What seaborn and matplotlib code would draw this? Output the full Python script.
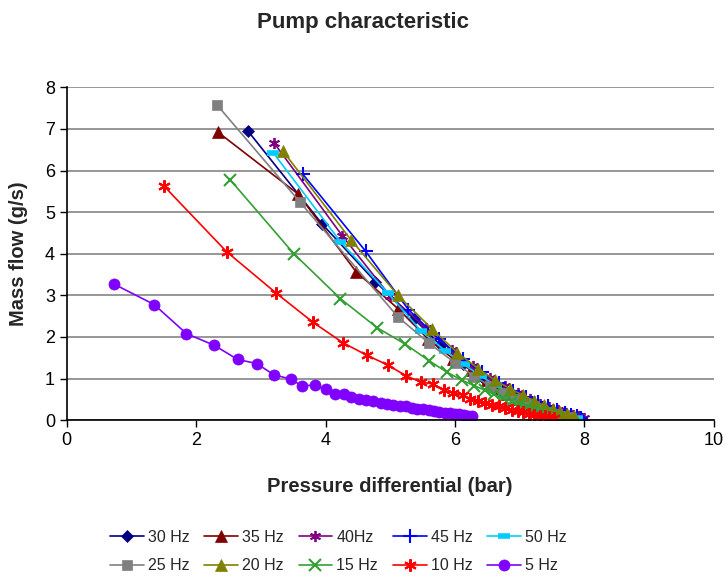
import numpy as np
import pandas as pd
import matplotlib
matplotlib.use("Agg")
import matplotlib.pyplot as plt
import seaborn as sns

# series (pressure differential in bar, mass flow in g/s)
labels = ["30 Hz", "35 Hz", "40Hz", "45 Hz", "50 Hz",
          "25 Hz", "20 Hz", "15 Hz", "10 Hz", "5 Hz"]

x30 = [2.80, 3.95, 4.77, 5.37, 5.78, 6.13, 6.42, 6.66, 6.87, 7.05, 7.21, 7.35, 7.48, 7.60, 7.70, 7.80, 7.88, 7.95]
y30 = [6.95, 4.71, 3.33, 2.43, 1.80, 1.36, 1.05, 0.82, 0.64, 0.50, 0.39, 0.30, 0.23, 0.17, 0.13, 0.10, 0.07, 0.05]

x35 = [2.33, 3.58, 4.47, 5.12, 5.58, 5.97, 6.25, 6.49, 6.66, 6.81, 6.95, 7.08, 7.20, 7.32, 7.43, 7.53, 7.62, 7.70]
y35 = [6.93, 5.43, 3.57, 2.68, 1.96, 1.48, 1.20, 0.96, 0.77, 0.63, 0.52, 0.41, 0.33, 0.25, 0.19, 0.14, 0.10, 0.07]

x40 = [3.21, 4.26, 5.00, 5.55, 5.95, 6.28, 6.55, 6.78, 6.98, 7.16, 7.32, 7.46, 7.59, 7.71, 7.82, 7.92, 8.00]
y40 = [6.65, 4.43, 2.98, 2.22, 1.68, 1.30, 1.02, 0.81, 0.65, 0.51, 0.40, 0.31, 0.24, 0.18, 0.13, 0.09, 0.06]

x45 = [3.65, 4.62, 5.28, 5.75, 6.12, 6.42, 6.68, 6.90, 7.10, 7.28, 7.44, 7.58, 7.70, 7.80, 7.88, 7.95]
y45 = [5.91, 4.06, 2.66, 1.95, 1.48, 1.15, 0.90, 0.71, 0.56, 0.43, 0.33, 0.25, 0.18, 0.13, 0.09, 0.06]

x50 = [3.19, 4.23, 4.96, 5.48, 5.85, 6.14, 6.40, 6.63, 6.83, 7.01, 7.17, 7.32, 7.46, 7.58, 7.69, 7.79, 7.88]
y50 = [6.43, 4.29, 3.06, 2.14, 1.67, 1.34, 1.06, 0.84, 0.67, 0.53, 0.42, 0.32, 0.24, 0.18, 0.13, 0.09, 0.06]

x25 = [2.32, 3.60, 5.12, 5.60, 6.00, 6.30, 6.55, 6.75, 6.93, 7.08, 7.22, 7.35, 7.47, 7.58, 7.68, 7.78]
y25 = [7.58, 5.25, 2.48, 1.85, 1.38, 1.05, 0.82, 0.65, 0.52, 0.42, 0.33, 0.25, 0.19, 0.14, 0.10, 0.07]

x20 = [3.34, 4.39, 5.12, 5.64, 6.04, 6.36, 6.62, 6.85, 7.05, 7.22, 7.37, 7.51, 7.63, 7.74, 7.84]
y20 = [6.47, 4.34, 3.00, 2.20, 1.62, 1.24, 0.96, 0.76, 0.60, 0.47, 0.36, 0.27, 0.20, 0.14, 0.09]

x15 = [2.53, 3.51, 4.23, 4.80, 5.23, 5.60, 5.87, 6.11, 6.30, 6.46, 6.61, 6.75, 6.88, 7.00, 7.11, 7.21, 7.31, 7.40, 7.48, 7.56]
y15 = [5.77, 4.00, 2.92, 2.22, 1.83, 1.43, 1.16, 0.96, 0.83, 0.72, 0.62, 0.53, 0.45, 0.38, 0.31, 0.25, 0.20, 0.15, 0.10, 0.06]

x10 = [1.50, 2.47, 3.24, 3.80, 4.27, 4.64, 4.97, 5.24, 5.47, 5.66, 5.83, 5.97, 6.12, 6.24, 6.36, 6.47, 6.58, 6.68,
       6.78, 6.88, 6.97, 7.06, 7.15, 7.23, 7.31, 7.39, 7.46, 7.53]
y10 = [5.63, 4.05, 3.05, 2.36, 1.86, 1.56, 1.32, 1.07, 0.92, 0.87, 0.72, 0.66, 0.60, 0.52, 0.47, 0.42, 0.37, 0.33,
       0.29, 0.25, 0.22, 0.19, 0.16, 0.13, 0.11, 0.09, 0.07, 0.05]

x5 = [0.73, 1.35, 1.85, 2.28, 2.64, 2.94, 3.20, 3.46, 3.64, 3.83, 4.00, 4.15, 4.28, 4.40, 4.52, 4.63, 4.74, 4.85,
      4.95, 5.05, 5.15, 5.24, 5.33, 5.42, 5.51, 5.60, 5.68, 5.76, 5.84, 5.92, 6.00, 6.07, 6.14, 6.20, 6.26]
y5 = [3.27, 2.78, 2.08, 1.80, 1.46, 1.36, 1.09, 0.99, 0.82, 0.85, 0.74, 0.62, 0.62, 0.55, 0.52, 0.48, 0.45, 0.42,
      0.40, 0.37, 0.35, 0.33, 0.30, 0.28, 0.26, 0.24, 0.22, 0.20, 0.18, 0.17, 0.15, 0.14, 0.12, 0.11, 0.10]

xs = [x30, x35, x40, x45, x50, x25, x20, x15, x10, x5]
ys = [y30, y35, y40, y45, y50, y25, y20, y15, y10, y5]

colors = ["#000080", "#800000", "#800080", "#0000FF", "#00CCFF",
          "#808080", "#808000", "#33A033", "#FF0000", "#8000FF"]
asterisk = (6, 2, 0)
markers = ["D", "^", asterisk, "+", "_", "s", "^", "x", asterisk, "o"]
msizes = [6, 8, 8, 10, 9, 7, 8, 8, 9, 8]
medges = [0.5, 0.5, 1.3, 1.5, 4, 0.5, 0.5, 1.5, 1.5, 0.5]

sns.set_style("white")
plt.rcParams['font.family'] = ['Liberation Sans', 'DejaVu Sans']

fig, ax = plt.subplots(figsize=(7.26, 5.78), dpi=100)
fig.subplots_adjust(left=0.092, right=0.983, top=0.849, bottom=0.273)

for lab, x, y, c, m, ms, mew in zip(labels, xs, ys, colors, markers, msizes, medges):
    df = pd.DataFrame({"p": x, "q": y})
    sns.lineplot(data=df, x="p", y="q", ax=ax, color=c, marker=m, markersize=ms,
                 markeredgecolor=c, markeredgewidth=mew,
                 linewidth=1.2, estimator=None, sort=False, label=lab)

h, l = ax.get_legend_handles_labels()
ax.get_legend().remove()
order = [0, 5, 1, 6, 2, 7, 3, 8, 4, 9]
fig.legend([h[i] for i in order], [l[i] for i in order], ncol=5, loc="upper left",
           bbox_to_anchor=(0.1515, 1 - 530 / 578), frameon=False, fontsize=11.5,
           handlelength=2.1, columnspacing=0.95, handletextpad=0.25, labelspacing=0.82,
           borderpad=0, borderaxespad=0)

ax.set_xlim(0, 10)
ax.set_ylim(0, 8)
ax.set_xticks(np.arange(0, 11, 2))
ax.set_yticks(np.arange(0, 9, 1))
ax.yaxis.grid(True, color="#858585", linewidth=1.2)
ax.set_axisbelow(True)
for s in ["top", "right"]:
    ax.spines[s].set_visible(False)
for s in ["left", "bottom"]:
    ax.spines[s].set_color("black")
    ax.spines[s].set_linewidth(1.2)
ax.tick_params(axis="both", direction="out", length=5, width=1, labelsize=13, colors="black",
               bottom=True, left=True)

ax.set_xlabel("Pressure differential (bar)", fontsize=14.5, fontweight="bold", labelpad=20)
ax.set_ylabel("Mass flow (g/s)", fontsize=14.5, fontweight="bold", labelpad=12)
fig.suptitle("Pump characteristic", fontsize=16, fontweight="bold", x=0.5, y=0.98)

fig.savefig("out.png", dpi=100)
